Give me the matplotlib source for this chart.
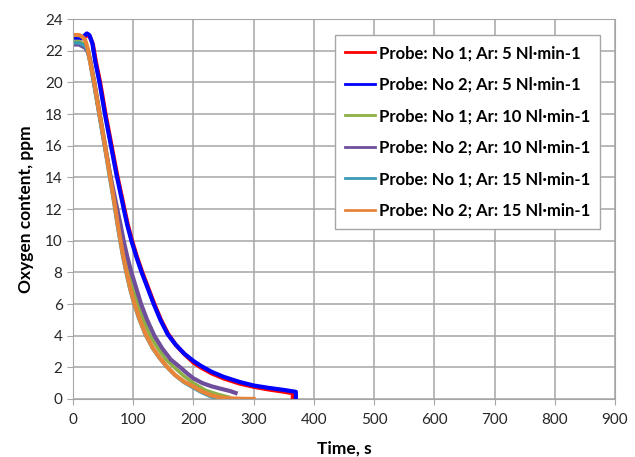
import numpy as np
import matplotlib.pyplot as plt

plt.rcParams['font.family'] = ['Lato', 'DejaVu Sans']

# Ar 5 Nl/min
t_red = [0, 10, 15, 20, 24, 28, 33, 38, 45, 54, 65, 73, 82, 85, 91, 98, 106, 115, 125, 135, 146, 158, 171, 186, 200, 212, 230, 250, 277, 300, 325, 350, 365, 365]
v_red = [22.8, 22.8, 22.8, 22.9, 23.0, 22.9, 22.4, 21.3, 20.0, 18.0, 15.8, 14.2, 12.6, 12.05, 11.0, 10.0, 9.0, 8.0, 7.0, 6.0, 5.0, 4.1, 3.4, 2.8, 2.3, 2.0, 1.62, 1.3, 0.97, 0.77, 0.6, 0.46, 0.36, 0.0]
t_blue = [0, 10, 15, 20, 23, 27, 32, 37, 44, 53, 64, 72, 81, 84, 90, 97, 105, 114, 124, 134, 145, 157, 170, 185, 200, 212, 230, 250, 277, 300, 325, 350, 370, 370]
v_blue = [22.8, 22.8, 22.8, 23.0, 23.1, 23.0, 22.5, 21.3, 20.0, 18.0, 15.8, 14.2, 12.6, 12.05, 11.0, 10.0, 9.0, 8.0, 7.0, 6.0, 5.0, 4.1, 3.45, 2.85, 2.4, 2.1, 1.72, 1.4, 1.07, 0.85, 0.7, 0.57, 0.45, 0.0]

# Ar 10 Nl/min
t_green = [0, 10, 15, 20, 25, 29, 36, 45, 54, 61, 68, 72, 76, 81, 86, 93, 100, 107, 117, 128, 141, 154, 168, 184, 200, 220, 240, 258]
v_green = [22.6, 22.6, 22.5, 22.4, 22.1, 21.4, 20.0, 18.0, 16.0, 14.4, 12.8, 12.0, 11.0, 10.0, 9.0, 8.0, 7.0, 6.0, 5.0, 4.0, 3.2, 2.5, 2.0, 1.45, 1.0, 0.55, 0.3, 0.12]
t_purple = [0, 10, 15, 20, 25, 29, 35, 44, 53, 61, 68, 75, 79, 84, 90, 97, 105, 113, 123, 135, 148, 162, 178, 190, 200, 215, 230, 245, 261, 270]
v_purple = [22.4, 22.4, 22.3, 22.2, 21.9, 21.3, 20.0, 18.0, 16.0, 14.3, 13.0, 11.7, 11.0, 10.0, 9.0, 8.0, 7.0, 6.0, 5.0, 4.0, 3.2, 2.5, 2.0, 1.6, 1.3, 1.0, 0.8, 0.65, 0.5, 0.38]

# Ar 15 Nl/min
t_cyan = [0, 10, 15, 20, 24, 28, 34, 43, 52, 59, 66, 69, 73, 77, 82, 88, 94, 100, 109, 120, 132, 144, 156, 169, 184, 199, 213, 227, 242]
v_cyan = [22.5, 22.5, 22.4, 22.3, 22.0, 21.3, 20.0, 18.0, 16.0, 14.4, 12.8, 12.1, 11.1, 10.2, 9.1, 8.0, 7.0, 6.15, 5.1, 4.05, 3.2, 2.55, 2.0, 1.5, 1.05, 0.72, 0.42, 0.18, 0.0]
t_orange = [0, 10, 15, 20, 24, 28, 35, 44, 53, 60, 67, 70, 74, 78, 83, 89, 95, 101, 110, 121, 133, 145, 157, 170, 185, 200, 214, 228, 240, 250, 265, 280, 300]
v_orange = [23.0, 23.0, 22.9, 22.7, 22.2, 21.4, 20.0, 18.0, 16.0, 14.4, 12.8, 12.1, 11.1, 10.2, 9.1, 8.0, 7.0, 6.15, 5.1, 4.05, 3.2, 2.55, 2.0, 1.5, 1.08, 0.78, 0.48, 0.25, 0.13, 0.07, 0.03, 0.01, 0.0]

labels = ['Probe: No 1; Ar: 5 Nl\u00b7min-1', 'Probe: No 2; Ar: 5 Nl\u00b7min-1',
          'Probe: No 1; Ar: 10 Nl\u00b7min-1', 'Probe: No 2; Ar: 10 Nl\u00b7min-1',
          'Probe: No 1; Ar: 15 Nl\u00b7min-1', 'Probe: No 2; Ar: 15 Nl\u00b7min-1']
colors = ['#ff0000', '#0000ff', '#8db046', '#6f4f9b', '#3b9bb5', '#e6853a']

fig = plt.figure(figsize=(6.35, 4.57), dpi=100)
ax = fig.add_axes([0.115, 0.127, 0.8535, 0.831])

series = [(t_red, v_red), (t_blue, v_blue), (t_green, v_green),
          (t_purple, v_purple), (t_cyan, v_cyan), (t_orange, v_orange)]
widths = [3, 3, 2.5, 3, 2.5, 3]
for (t, v), c, lab, w in zip(series, colors, labels, widths):
    ax.plot(t, v, color=c, lw=w, label=lab, solid_joinstyle='round')

ax.set_xlim(0, 900)
ax.set_ylim(0, 24)
ax.set_xticks(np.arange(0, 901, 100))
ax.set_yticks(np.arange(0, 25, 2))
ax.grid(True, color='#a6a6a6', lw=1.1)
ax.set_axisbelow(True)
for s in ax.spines.values():
    s.set_color('#a6a6a6')
ax.tick_params(colors='#a6a6a6', labelcolor='#262626', labelsize=11, length=4)
ax.tick_params(axis='x', pad=6)

ax.set_xlabel('Time, s', fontsize=12.5, fontweight='bold', labelpad=10)
ax.set_ylabel('Oxygen content, ppm', fontsize=12.5, fontweight='bold', labelpad=8)

leg = ax.legend(loc='upper right', bbox_to_anchor=(0.9723, 0.958), borderaxespad=0,
                fancybox=False, edgecolor='#a6a6a6', framealpha=1,
                handlelength=1.8, handletextpad=0.2, labelspacing=0.93, borderpad=0.6,
                prop={'weight': 'bold', 'size': 12})
for line in leg.get_lines():
    line.set_linewidth(2)
leg.get_frame().set_linewidth(1)

fig.savefig('out.png', dpi=100)
